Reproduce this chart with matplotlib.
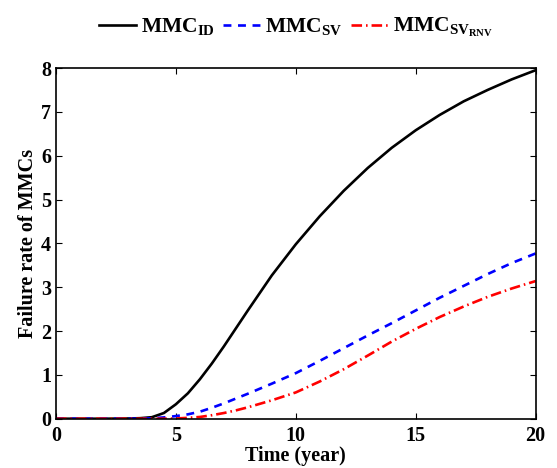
import matplotlib
matplotlib.use('Agg')
import matplotlib.pyplot as plt
import numpy as np

plt.rcParams['font.family'] = 'Liberation Serif'
plt.rcParams['font.weight'] = 'bold'
plt.rcParams['mathtext.fontset'] = 'custom'
plt.rcParams['mathtext.rm'] = 'Liberation Serif:bold'
plt.rcParams['mathtext.it'] = 'Liberation Serif:bold'
plt.rcParams['mathtext.bf'] = 'Liberation Serif:bold'

# values
t = [0, 1, 2, 3, 3.5, 4, 4.5, 5, 5.5, 6, 6.5, 7, 7.5, 8, 9, 10, 11, 12, 13, 14, 15, 16, 17, 18, 19, 20]
mmc_id = [0, 0, 0, 0.005, 0.012, 0.035, 0.13, 0.33, 0.58, 0.9, 1.26, 1.65, 2.06, 2.47, 3.27, 3.98, 4.62,
          5.2, 5.72, 6.18, 6.58, 6.93, 7.24, 7.5, 7.74, 7.95]
mmc_sv = [0, 0, 0, 0, 0.002, 0.01, 0.03, 0.06, 0.1, 0.16, 0.25, 0.35, 0.46, 0.57, 0.8, 1.04, 1.32,
          1.61, 1.9, 2.18, 2.47, 2.76, 3.03, 3.3, 3.55, 3.77]
mmc_rnv = [0, 0, 0, 0, 0, 0, 0, 0.005, 0.02, 0.04, 0.08, 0.13, 0.19, 0.26, 0.42, 0.6, 0.85,
           1.13, 1.44, 1.76, 2.05, 2.32, 2.56, 2.78, 2.97, 3.14]

fig = plt.figure(figsize=(5.57, 4.68), dpi=100)
ax = fig.add_axes([0.1005, 0.1053, 0.8612, 0.7494])

ax.plot(t, mmc_id, color='k', lw=1.9, label=r'$MMC_{ID}$')
ax.plot(t, mmc_sv, color='b', lw=1.9, ls=(0, (3, 2.5)), label=r'$MMC_{SV}$')
ax.plot(t, mmc_rnv, color='r', lw=1.9, ls=(0, (4, 1.5, 0.6, 1.5)), label=r'$MMC_{SV_{RNV}}$')

ax.set_xlim(0, 20)
ax.set_ylim(0, 8)
ax.set_xticks([0, 5, 10, 15, 20])
ax.set_yticks(range(9))
ax.tick_params(direction='in', top=True, right=True, length=4, width=0.8,
               labelsize=14.5, colors='k')
ax.tick_params(axis='x', pad=5.5)
ax.tick_params(axis='y', pad=3.5)
for lab in ax.get_xticklabels() + ax.get_yticklabels():
    lab.set_fontweight('bold')
for s in ax.spines.values():
    s.set_linewidth(1.2)

ax.set_xlabel('Time (year)', fontsize=14.5, fontweight='bold', labelpad=0)
ax.set_ylabel('Failure rate of MMCs', fontsize=14.5, fontweight='bold', labelpad=2)

ax.legend(loc='center', bbox_to_anchor=(0.5, 1.115), ncol=3, frameon=False,
          fontsize=15.5, handlelength=1.75, columnspacing=0.4, handletextpad=0.2,
          borderaxespad=0, borderpad=0)

fig.savefig('out.png', dpi=100)
